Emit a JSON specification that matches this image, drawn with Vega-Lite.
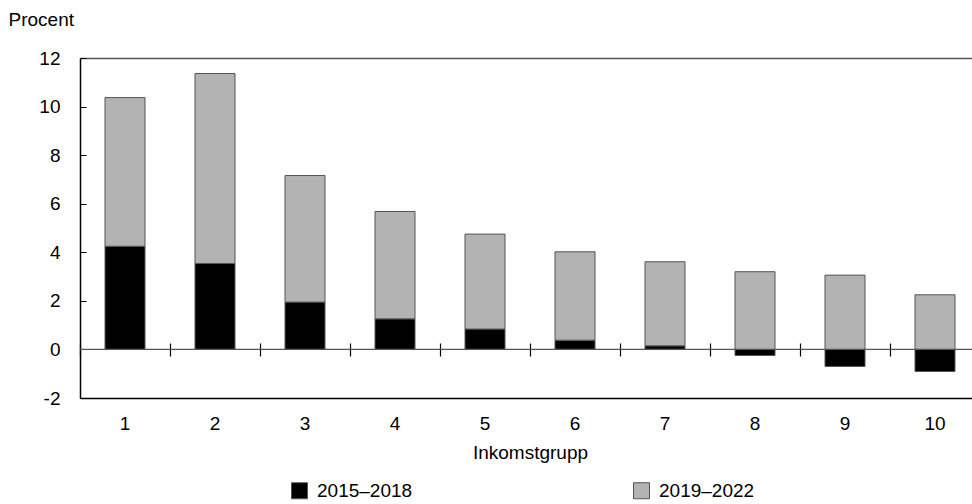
{
  "$schema": "https://vega.github.io/schema/vega-lite/v6.json",
  "width": 892,
  "height": 340,
  "autosize": {"type": "none"},
  "padding": {"left": 80, "top": 58, "right": 0, "bottom": 106},
  "background": "white",
  "config": {
    "view": {"stroke": null},
    "font": "Liberation Sans",
    "axis": {"labelFont": "Liberation Sans", "titleFont": "Liberation Sans", "labelColor": "#000", "titleColor": "#000", "grid": false, "titleFontWeight": "normal"},
    "legend": {"labelFont": "Liberation Sans", "labelColor": "#000"}
  },
  "data": {
    "values": [
      {"g": 1, "p": "2015–2018", "v": 4.25}, {"g": 1, "p": "2019–2022", "v": 6.12},
      {"g": 2, "p": "2015–2018", "v": 3.54}, {"g": 2, "p": "2019–2022", "v": 7.82},
      {"g": 3, "p": "2015–2018", "v": 1.95}, {"g": 3, "p": "2019–2022", "v": 5.21},
      {"g": 4, "p": "2015–2018", "v": 1.26}, {"g": 4, "p": "2019–2022", "v": 4.42},
      {"g": 5, "p": "2015–2018", "v": 0.84}, {"g": 5, "p": "2019–2022", "v": 3.91},
      {"g": 6, "p": "2015–2018", "v": 0.38}, {"g": 6, "p": "2019–2022", "v": 3.64},
      {"g": 7, "p": "2015–2018", "v": 0.15}, {"g": 7, "p": "2019–2022", "v": 3.46},
      {"g": 8, "p": "2015–2018", "v": -0.25}, {"g": 8, "p": "2019–2022", "v": 3.2},
      {"g": 9, "p": "2015–2018", "v": -0.7}, {"g": 9, "p": "2019–2022", "v": 3.06},
      {"g": 10, "p": "2015–2018", "v": -0.91}, {"g": 10, "p": "2019–2022", "v": 2.25}
    ]
  },
  "layer": [
    {
      "mark": {"type": "bar", "size": 40, "stroke": "#555", "strokeWidth": 1},
      "encoding": {
        "x": {
          "field": "g", "type": "ordinal",
          "scale": {"range": [0, 900], "paddingInner": 0, "paddingOuter": 0},
          "axis": {"orient": "bottom", "domain": true, "domainColor": "#000", "domainWidth": 1.5, "ticks": false, "labelAngle": 0, "labelFontSize": 19, "labelPadding": 16, "title": "Inkomstgrupp", "titleFontSize": 19, "titlePadding": 10}
        },
        "y": {
          "field": "v", "type": "quantitative", "stack": "zero",
          "scale": {"domain": [-2, 12], "nice": false, "zero": false},
          "axis": {"values": [-2, 0, 2, 4, 6, 8, 10, 12], "labelExpr": "datum.value < 0 ? '-' + abs(datum.value) : datum.label", "domain": true, "domainColor": "#000", "domainWidth": 1.5, "tickColor": "#000", "tickSize": -6, "labelFontSize": 19, "labelPadding": 26, "title": "Procent", "titleFontSize": 19, "titleAngle": 0, "titleAlign": "left", "titleBaseline": "alphabetic", "titleX": -72, "titleY": -33}
        },
        "color": {
          "field": "p", "type": "nominal",
          "scale": {"domain": ["2015–2018", "2019–2022"], "range": ["#000000", "#b3b3b3"]},
          "legend": {"orient": "none", "legendX": 210, "legendY": 423, "direction": "horizontal", "title": null, "symbolType": "square", "symbolSize": 256, "symbolStrokeColor": "#555", "symbolStrokeWidth": 1, "symbolOpacity": 1, "labelFontSize": 19, "labelOffset": 8, "columnPadding": 218}
        },
        "order": {"field": "p", "sort": "ascending"}
      }
    },
    {
      "data": {"values": [{"z": 0}]},
      "mark": {"type": "rule", "color": "#555", "strokeWidth": 1.2},
      "encoding": {"y": {"field": "z", "type": "quantitative"}}
    },
    {
      "mark": {"type": "point", "opacity": 0},
      "encoding": {
        "x": {"field": "g", "type": "ordinal", "axis": {"orient": "bottom", "offset": -55, "domain": false, "labels": false, "ticks": true, "tickBand": "extent", "tickSize": 13, "tickColor": "#000", "tickWidth": 1.2, "title": null}}
      }
    },
    {
      "mark": {"type": "point", "opacity": 0},
      "encoding": {
        "x": {"field": "g", "type": "ordinal", "axis": {"orient": "top", "domain": true, "domainColor": "#555", "domainWidth": 1.5, "labels": false, "ticks": false, "title": null}}
      }
    }
  ],
  "resolve": {"axis": {"x": "independent"}}
}
